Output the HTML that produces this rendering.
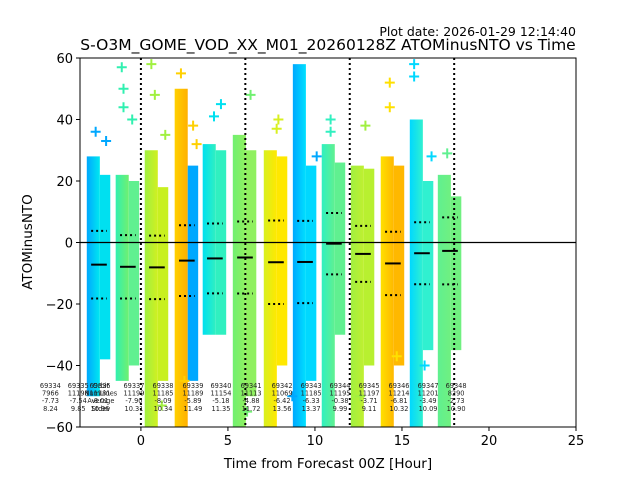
<!DOCTYPE html>
<html><head><meta charset="utf-8"><style>
body{margin:0;background:#fff;}
svg{display:block;font-family:"DejaVu Sans","Liberation Sans",sans-serif;}
</style></head><body>
<svg id="chart" width="640" height="480" viewBox="0 0 640 480" xmlns="http://www.w3.org/2000/svg">
<text x="576" y="36" font-size="12.5" text-anchor="end">Plot date: 2026-01-29 12:14:40</text>
<text x="328" y="50" font-size="15.5" text-anchor="middle">S-O3M_GOME_VOD_XX_M01_20260128Z ATOMinusNTO vs Time</text>
<defs id="defs"></defs>
<g id="plot"></g>
<text x="328" y="468" font-size="13.5" text-anchor="middle">Time from Forecast 00Z [Hour]</text>
<text transform="translate(32,242) rotate(-90)" font-size="13.5" text-anchor="middle">ATOMinusNTO</text>
</svg>
<script>
const orbits=["69334","69335","69336","69337","69338","69339","69340","69341","69342","69343","69344","69345","69346","69347","69348"];
const numLines=["7966","11198","11181","11199","11185","11189","11154","11113","11069","11185","11195","11197","11214","11201","8290"];
const averages=["-7.73","-7.54","-8.01","-7.90","-8.09","-5.89","-5.18","-4.88","-6.42","-6.33","-0.38","-3.71","-6.81","-3.49","-2.73"];
const stdevs=["8.24","9.85","10.96","10.31","10.34","11.49","11.35","11.72","13.56","13.37","9.99","9.11","10.32","10.09","10.90"];
const groupTimes=[-2.41,-0.75,0.92,2.64,4.25,5.98,7.76,9.43,11.09,12.76,14.48,16.15,17.76];
const labelTimes=[-5.2,-3.6,-2.35,-0.4,1.27,2.99,4.6,6.33,8.11,9.78,11.44,13.11,14.83,16.5,18.11];
const groupMeans=[-7.2,-7.9,-8.09,-5.89,-5.18,-4.88,-6.42,-6.33,-0.38,-3.71,-6.81,-3.49,-2.73];
const groupStd=[11.0,10.31,10.34,11.49,11.35,11.72,13.56,13.37,9.99,9.11,10.32,10.09,10.9];
const leftTop=[28,22,30,50,32,35,30,58,32,25,28,40,22];
const leftBottom=[-50,-45,-60,-60,-30,-60,-60,-60,-60,-60,-60,-60,-60];
const rightTop=[22,20,18,25,30,30,28,25,26,24,25,20,15];
const rightBottom=[-38,-40,-45,-45,-30,-50,-40,-45,-30,-40,-40,-35,-35];
const colA=["#00a8ff","#30f0b0","#a0f040","#ffd000","#00e0f0","#70f070","#d8f020","#00a8ff","#30f0c0","#a0f040","#ffe000","#00d8ff","#60f090"];
const colB=["#00e8f0","#70f070","#d0f020","#ffb000","#30f0c0","#90f060","#ffe800","#00e0ff","#60f090","#c0f030","#ffb800","#30f0d0","#70f080"];
const colR=["#00e0f0","#60f090","#c8f020","#00a8ff","#30f0c0","#90f060","#ffe800","#00d8ff","#60f090","#b8f030","#ffb800","#30f0d0","#70f080"];
const outliers=[[-2.6,36],[-2.0,33],[-1.1,57],[-1.0,50],[-1.0,44],[-0.5,40],[0.6,58],[0.8,48],[1.4,35],[2.3,55],[3.0,38],[3.2,32],[4.6,45],[4.2,41],[6.3,48],[6.1,-55],[7.9,40],[7.8,37],[10.1,28],[10.9,40],[10.9,36],[12.9,38],[14.3,52],[14.3,44],[15.7,58],[15.7,54],[16.7,28],[17.6,29],[1.2,-53],[2.5,-45],[8.7,-50],[12.6,-50],[14.7,-37],[16.3,-40]];
const xTicks=[0,5,10,15,20,25];
const yTicks=[-60,-40,-20,0,20,40,60];
const vLines=[0,6,12,18];

const L=80,R=576,T=58,B=427,X0=-3.5,X1=25,Y0=-60,Y1=60;
const sx=v=>L+(v-X0)/(X1-X0)*(R-L);
const sy=v=>B-(v-Y0)/(Y1-Y0)*(B-T);
const NS="http://www.w3.org/2000/svg";
const svg=document.getElementById('chart'),plot=document.getElementById('plot'),defs=document.getElementById('defs');
function mk(tag,attrs,parent){const e=document.createElementNS(NS,tag);for(const k in attrs)e.setAttribute(k,attrs[k]);(parent||plot).appendChild(e);return e;}
const cp=mk('clipPath',{id:'clip'},defs);mk('rect',{x:L,y:T,width:R-L,height:B-T},cp);
const g=mk('g',{'clip-path':'url(#clip)'});


groupTimes.forEach((t,i)=>{
  const gr=mk('linearGradient',{id:'gr'+i,x1:0,x2:1,y1:0,y2:0},defs);
  mk('stop',{offset:0,'stop-color':colA[i]},gr);mk('stop',{offset:1,'stop-color':colB[i]},gr);
  const r1=mk('rect',{x:sx(t-0.7),y:sy(leftTop[i]),width:sx(t+0.05)-sx(t-0.7),height:sy(leftBottom[i])-sy(leftTop[i]),fill:'url(#gr'+i+')'},g);
  
  
  const r2=mk('rect',{x:sx(t+0.05),y:sy(rightTop[i]),width:sx(t+0.65)-sx(t+0.05),height:sy(rightBottom[i])-sy(rightTop[i]),fill:colR[i]},g);
  
  
});
outliers.forEach(o=>{
  const c=groupTimes.reduce((b,t,j)=>Math.abs(t-o[0])<Math.abs(groupTimes[b]-o[0])?j:b,0);
  const x=sx(o[0]),y=sy(o[1]);
  const p=mk('path',{d:`M${x-5} ${y}H${x+5}M${x} ${y-5}V${y+5}`,stroke:colA[c],'stroke-width':2},g);
  
  
});
vLines.forEach(v=>{const l=mk('line',{x1:sx(v),x2:sx(v),y1:T,y2:B,stroke:'#000','stroke-width':2,'stroke-dasharray':'2,3'});
  
  });
const zl=mk('line',{x1:L,x2:R,y1:sy(0),y2:sy(0),stroke:'#000','stroke-width':1.2});


groupTimes.forEach((t,i)=>{
  const m=mk('line',{x1:sx(t-0.45),x2:sx(t+0.45),y1:sy(groupMeans[i]),y2:sy(groupMeans[i]),stroke:'#000','stroke-width':2});
  
  
  [1,-1].forEach(s=>{const d=mk('line',{x1:sx(t-0.45),x2:sx(t+0.45),y1:sy(groupMeans[i]+s*groupStd[i]),y2:sy(groupMeans[i]+s*groupStd[i]),stroke:'#000','stroke-width':2,'stroke-dasharray':'2,3'});
    
    });
});
orbits.forEach((o,i)=>{
  const x=sx(labelTimes[i]);
  [o,numLines[i],averages[i],stdevs[i]].forEach((s,k)=>{
    const e=mk('text',{x:x,y:388+k*7.6,'font-size':6.6,'text-anchor':'middle',fill:'#222'},svg);
    e.textContent=s;
    
    
  });
});
["Orbit","NumLines","Average","Stdev"].forEach((s,k)=>{
  const e=mk('text',{x:sx(-2.3),y:388+k*7.6,'font-size':6.6,'text-anchor':'middle',fill:'#222'},svg);
  e.textContent=s;
  
  
});
const fr=mk('rect',{x:L,y:T,width:R-L,height:B-T,fill:'none',stroke:'#000','stroke-width':1});


xTicks.forEach(v=>{mk('line',{x1:sx(v),x2:sx(v),y1:B,y2:B+4,stroke:'#000'});
  const e=mk('text',{x:sx(v),y:B+18,'font-size':13,'text-anchor':'middle'});e.textContent=v;
  
  });
yTicks.forEach(v=>{mk('line',{x1:L-4,x2:L,y1:sy(v),y2:sy(v),stroke:'#000'});
  const e=mk('text',{x:L-7,y:sy(v)+5,'font-size':13,'text-anchor':'end'});e.textContent=v<0?'\u2212'+(-v):v;
  
  });
</script>
</body></html>
